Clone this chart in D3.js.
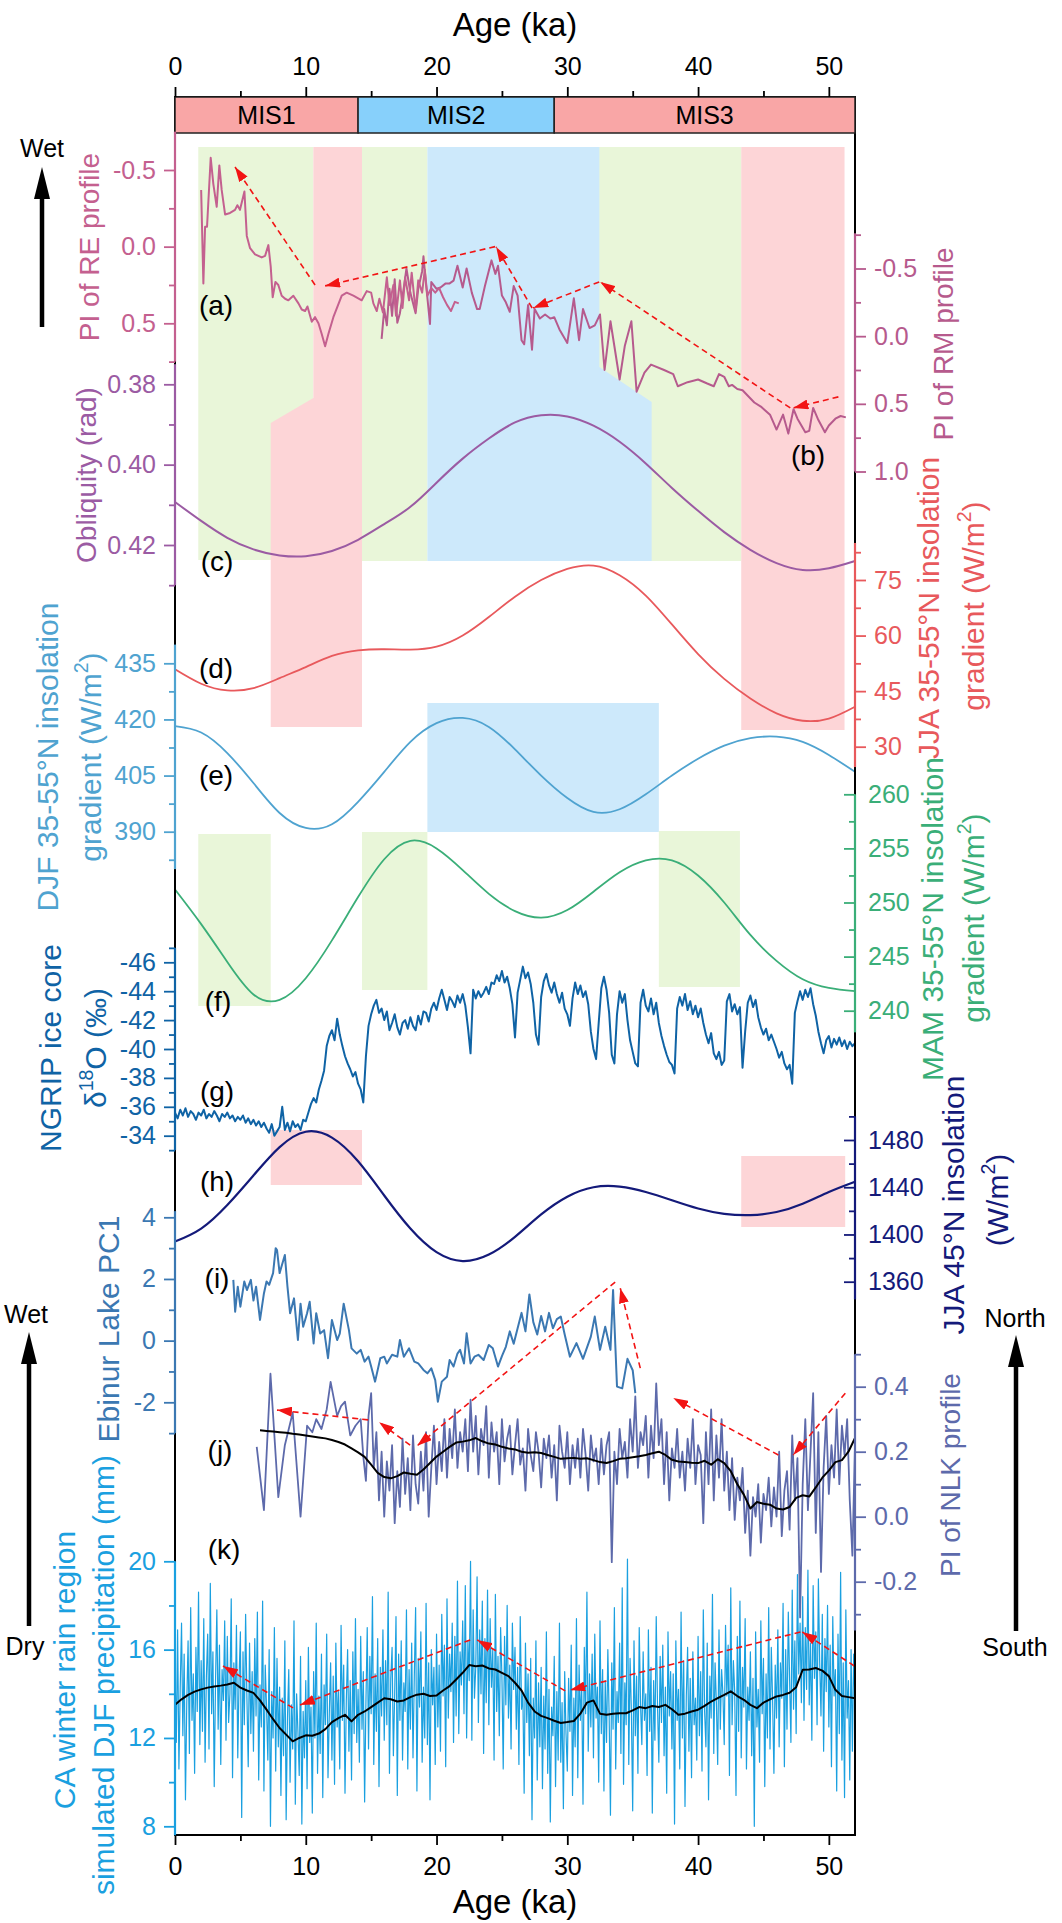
<!DOCTYPE html>
<html>
<head>
<meta charset="utf-8">
<script src="https://cdn.jsdelivr.net/npm/d3@7"></script>
<style>
  body { margin: 0; background: #fff; }
  text { font-family: "Liberation Sans", Arial, Helvetica, sans-serif; }
</style>
</head>
<body>
<svg id="chart" width="1062" height="1923"></svg>
<script>
// ------------------------------
// Data
// ------------------------------

// MIS stages (ka)
const misNames = ["MIS1", "MIS2", "MIS3"];
const misStart = [0, 14, 29];
const misEnd = [14, 29, 52];

// orbital series, every 2 ka
const orbitAge = [0, 2, 4, 6, 8, 10, 12, 14, 16, 18, 20, 22, 24, 26, 28, 30, 32, 34, 36, 38, 40, 42, 44, 46, 48, 50, 52];
const obliquity = [0.4093, 0.4140, 0.4182, 0.4211, 0.4226, 0.4228, 0.4215, 0.4187, 0.4148, 0.4105, 0.4045, 0.3985, 0.3935, 0.3895, 0.3877, 0.3880, 0.3903, 0.3943, 0.3997, 0.4058, 0.4115, 0.4168, 0.4212, 0.4245, 0.4262, 0.4258, 0.4240];
const jja3555 = [50.9, 47.0, 45.2, 45.8, 48.5, 51.5, 54.5, 56.0, 56.3, 56.2, 57.0, 60.0, 65.0, 70.5, 75.0, 78.0, 78.9, 76.3, 70.8, 63.0, 55.0, 48.3, 43.0, 39.0, 37.0, 37.6, 40.8];
const djf3555 = [418.2, 416.5, 411.0, 403.0, 395.0, 391.0, 392.0, 398.0, 406.0, 414.0, 419.0, 420.4, 418.0, 412.0, 405.0, 399.0, 395.3, 396.0, 400.0, 405.0, 409.5, 413.0, 415.0, 415.4, 414.0, 410.5, 406.0];
const mam3555 = [251.2, 248.0, 244.5, 241.5, 241.0, 243.0, 246.5, 250.5, 254.0, 255.7, 255.0, 253.0, 250.8, 249.2, 248.6, 249.3, 251.0, 252.8, 253.9, 253.9, 252.5, 250.0, 247.0, 244.6, 242.9, 242.1, 241.8];
const jja45 = [1394, 1405, 1425, 1450, 1474, 1487, 1482, 1462, 1433, 1405, 1385, 1377.5, 1383, 1398, 1417, 1432, 1440, 1440.5, 1436, 1429, 1422, 1417.5, 1416.4, 1419, 1426, 1436, 1444.7];

// PI of RE profile [ka, PI]
const reProfile = [[2.0,-0.37],[2.17,0.24],[2.3,-0.13],[2.45,-0.13],[2.73,-0.58],[2.93,-0.41],[3.19,-0.26],[3.39,-0.53],[3.57,-0.37],[3.83,-0.21],[4.21,-0.22],[4.59,-0.24],[4.77,-0.27],[4.97,-0.24],[5.31,-0.36],[5.49,-0.07],[5.74,0.01],[6.12,0.05],[6.63,0.07],[6.89,0.06],[7.14,-0.01],[7.32,0.13],[7.47,0.33],[7.68,0.23],[7.9,0.25],[8.16,0.32],[8.42,0.34],[8.67,0.35],[9.05,0.32],[9.44,0.37],[9.69,0.41],[9.95,0.42],[10.13,0.39],[10.46,0.49],[10.71,0.46],[10.97,0.5],[11.22,0.57],[11.48,0.65],[11.73,0.57],[12.11,0.46],[12.75,0.32],[13.13,0.3],[13.64,0.32],[14.28,0.35],[14.66,0.29],[15.0,0.3],[15.17,0.37],[15.43,0.42],[15.63,0.34],[15.9,0.43],[16.2,0.2],[16.4,0.38],[16.7,0.25],[16.9,0.45],[17.2,0.22],[17.4,0.4],[17.6,0.2],[17.9,0.35],[18.1,0.17],[18.4,0.42],[18.6,0.22],[18.9,0.3],[19.1,0.15],[19.3,0.32],[19.6,0.27],[19.9,0.3],[20.2,0.27],[20.5,0.33],[20.8,0.38],[21.1,0.42],[21.4,0.36],[21.7,0.37]];

// PI of RM profile [ka, PI]
const rmProfile = [[15.8,0.02],[16.0,-0.2],[16.2,-0.08],[16.4,-0.35],[16.6,-0.15],[16.8,-0.42],[17.0,-0.1],[17.2,-0.17],[17.5,-0.36],[17.7,-0.5],[18.0,-0.32],[18.4,-0.17],[18.6,-0.35],[18.9,-0.48],[19.0,-0.59],[19.2,-0.38],[19.5,-0.09],[19.6,-0.4],[20.0,-0.35],[20.3,-0.36],[20.7,-0.39],[21.0,-0.39],[21.3,-0.41],[21.6,-0.52],[22.0,-0.36],[22.3,-0.5],[22.7,-0.32],[23.1,-0.2],[23.3,-0.2],[23.7,-0.37],[24.2,-0.56],[24.5,-0.46],[24.7,-0.52],[25.0,-0.3],[25.3,-0.25],[25.6,-0.18],[25.9,-0.37],[26.2,-0.3],[26.5,0.03],[26.7,0.06],[27.0,-0.23],[27.3,0.1],[27.5,-0.2],[27.9,-0.13],[28.3,-0.16],[28.7,-0.13],[29.0,-0.14],[29.4,-0.05],[30.0,0.05],[30.5,-0.28],[30.9,0.03],[31.2,-0.2],[31.7,-0.06],[32.1,-0.08],[32.5,-0.16],[32.85,0.25],[33.3,-0.11],[34.0,0.32],[34.4,0.07],[34.9,-0.11],[35.3,0.41],[35.9,0.27],[36.4,0.21],[37.4,0.25],[38.1,0.28],[38.45,0.37],[39.2,0.34],[40.0,0.32],[40.7,0.35],[41.2,0.37],[41.6,0.28],[42.0,0.3],[42.35,0.37],[42.6,0.36],[43.0,0.39],[43.4,0.40],[44.3,0.49],[44.8,0.52],[45.5,0.58],[46.0,0.69],[46.5,0.58],[46.9,0.72],[47.3,0.54],[47.6,0.61],[48.2,0.71],[48.5,0.70],[48.8,0.53],[49.2,0.62],[49.7,0.71],[50.0,0.66],[50.5,0.61],[50.9,0.59],[51.3,0.6]];

// NGRIP d18O, from 0 ka every 0.2 ka
const ngripStep = 0.2;
const ngrip = [
  -35.6,-35.2,-35.8,-35.4,-35.9,-35.3,-35.7,-35.5,-35.1,-35.6,-35.4,-35.8,-35.2,-35.5,-35.3,-35.7,-35.4,-35.0,-35.5,-35.3,-35.6,-35.2,-35.4,-35.0,-35.3,
  -35.1,-35.4,-34.9,-35.2,-34.8,-35.1,-34.7,-35.0,-34.6,-34.9,-34.5,-34.2,-34.8,-34.0,-34.3,-34.6,-36.0,-34.4,-34.9,-34.3,-35.0,-34.6,-34.8,-34.4,-35.1,
  -35.0,-35.6,-36.2,-36.6,-36.3,-37.2,-37.8,-38.5,-40.2,-40.9,-41.3,-40.6,-42.1,-41.0,-40.2,-39.5,-39.0,-38.6,-38.1,-38.4,-37.6,-37.2,-36.3,-39.5,-41.6,
  -42.4,-43.0,-43.4,-42.5,-42.8,-42.0,-42.6,-41.3,-41.8,-42.4,-41.5,-41.0,-41.8,-42.0,-41.4,-42.2,-41.6,-41.3,-42.3,-41.7,-42.6,-42.5,-41.9,-42.8,-43.2,
  -42.7,-43.5,-44.1,-43.4,-42.7,-43.6,-43.3,-42.9,-43.7,-43.2,-43.8,-43.0,-41.5,-39.7,-44.1,-43.5,-44.0,-43.6,-43.9,-44.3,-43.8,-44.6,-44.5,-45.1,-44.7,
  -45.4,-44.6,-45.0,-44.2,-43.1,-40.8,-43.9,-44.8,-45.7,-44.9,-45.3,-44.5,-43.2,-41.0,-40.3,-43.6,-44.7,-45.2,-44.4,-43.9,-44.6,-43.8,-43.2,-43.9,-42.8,
  -42.4,-41.6,-43.5,-44.6,-43.8,-44.4,-43.6,-44.0,-43.1,-41.2,-40.0,-39.3,-41.8,-44.2,-45.0,-44.1,-42.5,-39.6,-39.0,-42.4,-44.0,-43.2,-43.8,-42.0,-40.6,
  -39.8,-39.0,-38.8,-43.2,-44.1,-43.0,-42.6,-43.5,-42.4,-43.2,-41.8,-40.9,-40.2,-39.6,-39.1,-38.9,-38.3,-42.8,-43.6,-43.0,-43.8,-42.7,-43.3,-42.4,-43.0,
  -42.2,-42.8,-41.8,-41.0,-40.4,-41.1,-39.7,-39.3,-39.8,-38.9,-39.2,-43.3,-43.8,-42.6,-43.1,-42.4,-42.9,-38.7,-41.2,-43.2,-43.7,-42.9,-43.4,-42.2,-41.5,
  -41.0,-41.4,-40.6,-41.0,-40.5,-40.0,-39.4,-39.8,-39.0,-38.6,-38.9,-37.6,-42.5,-43.3,-44.0,-43.4,-44.1,-43.6,-44.2,-43.1,-42.3,-41.2,-40.4,-39.7,-40.6,
  -40.9,-40.1,-40.7,-40.3,-40.8,-40.2,-40.6,-40.0,-40.5,-40.2,-40.4
];

// Ebinur Lake PC1 [ka, PC1]
const ebinur = [[4.46,1.97],[4.6,0.94],[4.8,1.75],[5.0,1.1],[5.3,1.92],[5.5,1.64],[5.8,1.97],[6.0,1.3],[6.2,1.75],[6.5,0.67],[6.8,1.53],[7.0,1.92],[7.2,1.81],[7.5,2.19],[7.7,3.0],[7.8,2.94],[8.0,2.19],[8.4,2.78],[8.6,1.75],[8.8,0.89],[9.1,1.37],[9.4,0.02],[9.6,1.2],[9.8,0.45],[10.1,0.89],[10.3,1.26],[10.6,-0.09],[10.8,0.89],[11.1,0.23],[11.4,0.34],[11.7,-0.57],[12.0,0.67],[12.4,0.02],[12.6,0.23],[12.9,1.2],[13.3,0.34],[13.5,-0.25],[13.9,-0.42],[14.2,-0.3],[14.5,-0.68],[14.8,-0.52],[15.0,-0.84],[15.3,-1.33],[15.7,-0.57],[16.0,-0.52],[16.2,-0.74],[16.6,-0.46],[17.0,-0.52],[17.2,0.02],[17.5,-0.52],[17.9,-0.25],[18.3,-0.68],[18.6,-0.74],[19.0,-0.95],[19.3,-1.06],[19.6,-0.9],[19.9,-1.28],[20.1,-1.98],[20.4,-1.33],[20.8,-1.17],[21.0,-0.63],[21.3,-0.84],[21.6,-0.42],[21.8,-0.3],[22.1,-0.74],[22.3,0.24],[22.6,-0.74],[22.9,-0.52],[23.2,-0.46],[23.6,-0.63],[24.0,-0.14],[24.3,-0.25],[24.7,-0.84],[25.0,-0.5],[25.3,-0.2],[25.6,0.3],[25.9,-0.1],[26.2,0.4],[26.5,0.9],[26.8,0.3],[27.1,1.5],[27.4,0.6],[27.7,0.2],[28.0,0.8],[28.3,0.3],[28.6,0.9],[28.9,0.4],[29.2,0.7],[29.5,0.78],[29.8,0.2],[30.2,-0.52],[30.7,-0.08],[31.2,-0.59],[31.8,0.13],[32.1,0.78],[32.5,-0.3],[32.9,0.45],[33.3,-0.3],[33.5,1.64],[33.8,-1.49],[34.2,-1.55],[34.6,-0.59],[35.0,-0.96],[35.2,-1.7]];

// PI of NLK profile: sparse early part [ka, PI], then every 0.2 ka from 14.6 ka
const nlkEarly = [[6.25,0.215],[6.8,0.02],[7.3,0.44],[7.9,0.06],[8.4,0.22],[9.0,0.32],[9.6,0.0],[10.1,0.28],[10.5,0.26],[10.8,0.3],[11.2,0.27],[11.6,0.33],[11.9,0.415],[12.4,0.31],[12.7,0.34],[13.0,0.354],[13.4,0.25],[13.8,0.28],[14.2,0.3],[14.4,0.185]];
const nlkStart = 14.6, nlkStep = 0.2;
const nlk = [
  0.11,0.31,0.38,0.15,0.26,0.05,0.2,0.0,0.17,0.08,
  0.22,-0.02,0.14,0.03,0.24,0.07,0.18,0.02,0.25,0.1,
  0.04,0.2,0.08,0.26,0.0,0.15,0.28,0.1,0.23,0.14,
  0.3,0.12,0.27,0.18,0.33,0.15,0.26,0.2,0.3,0.14,
  0.36,0.2,0.31,0.13,0.27,0.22,0.34,0.12,0.29,0.2,
  0.26,0.1,0.3,0.17,0.24,0.28,0.13,0.22,0.3,0.16,
  0.21,0.08,0.27,0.19,0.14,0.26,0.2,0.09,0.24,0.18,
  0.25,0.12,0.22,0.05,0.28,0.2,0.15,0.26,0.1,0.22,
  0.15,0.24,0.12,0.27,0.19,0.08,0.25,0.17,0.21,0.1,
  0.24,0.13,0.22,0.26,-0.14,0.2,0.1,0.27,0.18,0.23,
  0.12,0.3,0.2,0.37,0.15,0.26,0.22,0.31,0.12,0.28,
  0.18,0.41,0.22,0.3,0.1,0.26,0.05,0.21,0.15,0.27,
  0.12,0.2,0.08,0.24,0.15,0.3,0.1,0.22,0.19,-0.02,
  0.26,0.1,0.33,0.05,0.25,0.12,0.3,0.08,0.2,0.02,
  0.18,-0.01,0.12,0.05,0.15,-0.05,0.08,-0.12,0.06,0.0,
  0.1,-0.08,0.07,0.02,0.12,-0.03,0.09,0.0,0.2,-0.06,
  0.08,0.14,-0.04,0.25,0.05,0.18,-0.31,0.1,0.3,0.02,
  0.2,0.38,-0.05,0.26,-0.17,0.15,0.31,0.07,0.22,0.12,
  0.33,0.1,0.28,0.19,0.3,0.05,-0.12,0.22
];
// NLK smoothed, every 0.5 ka from 6.5 ka
const nlkSmoothStart = 6.5, smoothStep = 0.5;
const nlkSmooth = [0.266,0.264,0.262,0.26,0.258,0.255,0.253,0.25,0.247,0.244,0.241,0.236,0.23,0.222,0.21,0.198,0.184,0.16,0.135,0.122,0.118,0.125,0.136,0.132,0.129,0.145,0.165,0.185,0.2,0.215,0.228,0.231,0.235,0.242,0.232,0.225,0.222,0.215,0.21,0.207,0.2,0.197,0.198,0.196,0.19,0.184,0.178,0.18,0.181,0.178,0.18,0.174,0.168,0.165,0.171,0.178,0.18,0.183,0.186,0.19,0.195,0.2,0.19,0.175,0.17,0.168,0.166,0.165,0.172,0.16,0.177,0.165,0.14,0.1,0.068,0.025,0.045,0.04,0.037,0.025,0.022,0.03,0.058,0.066,0.062,0.09,0.12,0.142,0.168,0.174,0.2,0.242];

// CA winter rain region simulated DJF precipitation (mm), every 0.1 ka from 0 ka
const caStep = 0.1;
const caPrecip = [
  15.2,11.8,16.9,10.6,14.3,17.2,12.1,15.8,9.2,13.6,16.4,11.3,17.9,12.8,14.9,10.4,16.1,13.2,18.6,11.7,
  15.5,12.3,17.4,10.9,14.8,16.7,11.5,19.0,13.1,15.9,9.8,14.6,17.8,12.4,16.2,10.8,15.1,13.7,17.3,11.9,
  16.6,12.7,14.0,18.3,10.2,15.4,13.3,17.1,11.1,14.7,16.8,8.4,15.9,12.6,17.6,13.8,10.7,16.3,12.2,15.0,
  11.4,16.5,13.0,17.7,10.1,14.4,12.5,18.2,9.6,15.3,13.4,11.0,16.0,8.0,14.1,12.0,17.0,10.5,15.6,11.6,
  14.3,9.4,13.8,11.2,16.4,8.3,12.9,15.1,10.0,13.5,11.5,17.3,9.0,14.0,12.3,10.3,15.7,8.1,13.2,11.1,
  14.6,9.7,16.1,11.8,13.4,8.6,15.0,12.0,17.2,10.4,13.9,11.3,15.8,9.3,14.4,12.6,16.7,10.2,13.1,15.4,
  11.0,14.8,9.9,16.3,12.5,14.1,10.6,17.1,12.8,15.3,9.5,13.7,16.0,11.4,14.6,10.1,15.9,12.2,17.4,11.8,
  14.2,10.9,16.6,12.4,15.0,9.1,13.6,17.0,11.5,15.7,13.1,18.4,10.8,14.9,12.3,16.5,9.8,15.2,13.0,16.9,
  11.9,15.5,12.6,18.6,10.4,14.7,16.1,11.2,14.0,17.5,9.4,15.8,12.8,16.4,11.0,14.5,13.2,17.8,10.6,15.1,
  12.4,16.3,11.1,14.8,17.9,9.6,15.6,13.4,16.8,10.9,14.3,12.0,18.1,11.7,15.4,9.2,16.0,13.5,15.2,10.8,
  16.7,12.5,15.3,11.4,17.6,13.9,16.2,10.7,18.3,12.9,15.8,14.1,17.2,11.8,16.6,13.0,19.1,12.2,15.9,14.4,
  17.3,13.1,18.9,12.0,16.4,14.6,20.0,11.9,17.8,13.8,15.2,19.3,12.7,16.9,14.0,18.2,11.3,16.5,13.6,18.7,
  12.6,17.4,14.3,16.0,11.0,18.5,13.2,15.7,12.1,17.0,14.8,10.6,16.6,13.5,18.0,12.9,15.3,11.5,17.2,14.2,
  16.1,12.4,15.2,10.8,17.5,13.3,14.0,9.5,16.3,12.7,14.9,11.2,15.6,8.3,13.8,12.0,16.4,10.1,14.5,11.6,
  15.2,9.7,13.9,11.5,16.8,10.4,14.2,8.2,13.4,12.1,15.7,9.8,14.1,11.0,17.2,10.9,13.6,8.8,15.0,12.2,
  10.5,14.7,12.3,16.2,9.4,13.8,11.6,17.4,10.2,15.3,12.8,14.4,9.0,16.1,13.1,18.6,11.4,14.9,12.5,15.8,
  11.1,16.7,12.9,14.3,10.0,17.3,12.2,15.1,9.6,14.6,11.8,16.0,13.0,8.5,15.4,12.4,17.9,10.6,14.1,12.7,
  16.3,11.3,18.8,9.9,14.5,12.6,20.1,10.8,15.6,13.2,8.7,16.4,12.1,14.8,10.4,17.0,13.5,11.7,15.9,12.8,
  14.0,10.3,16.9,12.3,15.2,8.6,14.6,11.9,17.5,13.4,10.9,15.7,12.7,16.2,11.2,14.3,9.5,16.8,13.0,15.0,
  11.5,14.9,8.1,16.4,12.8,14.2,10.6,17.7,12.0,15.5,8.9,13.9,16.1,11.4,14.7,10.2,15.9,12.6,13.8,11.0,
  16.6,12.1,15.0,10.5,17.8,13.2,11.6,16.3,9.2,14.8,12.9,18.5,11.3,15.4,13.6,10.8,16.9,12.4,15.1,14.0,
  11.7,17.1,13.9,16.2,10.3,18.8,12.6,15.5,14.1,9.4,16.6,12.3,18.2,11.1,15.2,13.4,17.4,10.6,14.3,12.8,
  15.9,11.2,14.7,8.0,16.8,12.5,14.2,10.9,17.3,13.1,15.6,9.8,14.9,12.0,17.9,11.5,16.1,13.7,10.4,15.3,
  12.9,16.9,11.6,15.4,13.8,18.1,10.7,16.0,12.4,17.7,14.6,11.8,18.7,13.3,16.4,12.2,19.4,14.9,17.2,13.6,
  18.4,12.8,17.0,14.2,19.6,13.5,16.3,11.9,18.9,14.7,16.8,12.6,19.2,15.4,13.0,17.6,11.4,16.5,14.1,18.0,
  12.5,16.2,10.7,17.5,13.9,15.1,9.6,16.7,12.2,19.5,11.0,15.4,9.3,17.8,12.9,14.6,10.1,16.0,11.4,15.8,
  13.6
];
// CA smoothed, every 0.5 ka from 0 ka
const caSmooth = [13.5,13.75,13.95,14.1,14.2,14.28,14.33,14.37,14.42,14.5,14.28,14.15,14.04,13.7,13.28,12.85,12.45,12.15,11.85,12.0,12.12,12.1,12.2,12.4,12.72,12.9,13.05,12.75,13.05,13.2,13.4,13.6,13.8,13.75,13.65,13.7,13.85,13.96,14.0,13.9,13.92,14.15,14.35,14.65,14.95,15.3,15.25,15.28,15.15,15.1,14.95,14.8,14.5,14.15,13.6,13.2,13.0,12.9,12.78,12.68,12.72,12.77,13.1,13.6,13.7,13.1,13.05,13.1,13.12,13.12,13.25,13.4,13.35,13.45,13.4,13.5,13.3,13.05,13.1,13.2,13.28,13.45,13.65,13.8,13.95,14.11,13.9,13.73,13.5,13.35,13.6,13.75,13.88,13.95,14.05,14.3,15.09,15.1,15.17,15.05,14.8,14.18,13.9,13.85,13.8];

// trend arrows [fromKa, fromValue, toKa, toValue] on each panel's scale
const arrowsRE = [[10.71,0.25,4.59,-0.52],[24.48,0.0,11.48,0.256],[27.31,0.4,24.56,0.002],[32.44,0.23,27.39,0.4],[47.05,1.052,32.52,0.23],[50.73,0.98,47.28,1.052]];
const arrowsNLK = [[14.77,0.298,7.8,0.328],[17.98,0.22,15.61,0.291],[33.66,0.722,18.52,0.218],[35.58,0.457,34.05,0.703],[46.14,0.19,38.1,0.365],[51.26,0.38,47.28,0.19]];
const arrowsCA = [[9.03,13.36,3.67,15.26],[22.57,16.44,9.56,13.49],[29.84,14.13,23.11,16.44],[47.82,16.8,30.22,14.17],[51.95,15.26,47.97,16.8]];

// ------------------------------
// Setup
// ------------------------------

const svg = d3.select("#chart");
const FONT = '"Liberation Sans", Arial, Helvetica, sans-serif';
const yTop = 97, yBar = 133, yBottom = 1835;
const x = d3.scaleLinear().domain([0, 52]).range([175, 855]);
const lin = (d, r) => d3.scaleLinear().domain(d).range(r);

// one vertical scale per record, pinned to two of its tick marks
const yRE = lin([-0.5, 0.5], [170, 323.3]);
const yRM = lin([-0.5, 1.0], [268.5, 471.5]);
const yOBL = lin([0.38, 0.42], [384.3, 545]);
const yJJA = lin([75, 30], [580, 746.7]);
const yDJF = lin([435, 390], [663.3, 831.7]);
const yMAM = lin([260, 240], [794.3, 1010.7]);
const yNG = lin([-46, -34], [962.3, 1135.7]);
const yJ45 = lin([1480, 1360], [1140, 1281.7]);
const yEB = lin([4, -2], [1217.3, 1402.3]);
const yNLK = lin([0.4, 0.0], [1386.7, 1516.7]);
const yCA = lin([20, 8], [1561.3, 1826.3]);

const C = {
  re: "#c4608f", rm: "#b65a8d", obl: "#9b5ba3", jja: "#e8595c", djf: "#4fa3d0",
  mam: "#3aae78", ng: "#0f63a5", j45: "#141a7a", eb: "#3b78b2", nlk: "#5d6aab",
  ca: "#1aa0e0", arrow: "#f21414",
  green: "#e9f6d9", pink: "#fdd5d7", blue: "#cde9fb",
  misPink: "#f9a6a6", misBlue: "#87d0fb"
};

svg.append("rect").attr("width", 1062).attr("height", 1923).attr("fill", "#fff");

// ------------------------------
// Background shading (ka along x, pixel band along y)
// ------------------------------

const shade = svg.append("g");
const poly = (pts, fill) => shade.append("path")
  .attr("d", d3.line().x(d => x(d[0])).y(d => d[1])(pts) + "Z")
  .attr("fill", fill);
const box = (k0, k1, y0, y1, fill) => poly([[k0, y0], [k1, y0], [k1, y1], [k0, y1]], fill);

box(1.78, 10.58, 147, 560, C.green);
box(14.3, 19.3, 147, 561, C.green);
box(32.4, 43.3, 147, 561, C.green);
poly([[19.3, 147], [32.45, 147], [32.45, 367], [36.45, 402], [36.45, 561], [19.3, 561]], C.blue);
poly([[10.58, 147], [14.3, 147], [14.3, 727], [7.32, 727], [7.32, 423], [10.58, 398]], C.pink);
box(43.3, 51.2, 147, 730, C.pink);
box(19.3, 37.0, 703, 832, C.blue);
box(1.78, 7.32, 834, 1006, C.green);
box(14.3, 19.3, 832, 990, C.green);
box(37.0, 43.2, 831, 987, C.green);
box(7.32, 14.3, 1130, 1185, C.pink);
box(43.3, 51.25, 1156, 1227, C.pink);

// ------------------------------
// Series
// ------------------------------

const series = svg.append("g").attr("fill", "none").attr("stroke-linejoin", "round");
function drawLine(pts, yScale, color, width, curve) {
  series.append("path")
    .attr("d", d3.line().x(d => x(d[0])).y(d => yScale(d[1])).curve(curve || d3.curveLinear)(pts))
    .attr("stroke", color).attr("stroke-width", width);
}
const regular = (vals, start, step) => vals.map((v, i) => [start + i * step, v]);
const byOrbit = vals => vals.map((v, i) => [orbitAge[i], v]);

drawLine(regular(caPrecip, 0, caStep), yCA, C.ca, 1.2);
drawLine(regular(caSmooth, 0, smoothStep), yCA, "#000", 2);
drawLine(nlkEarly.concat(regular(nlk, nlkStart, nlkStep)), yNLK, C.nlk, 1.8);
drawLine(regular(nlkSmooth, nlkSmoothStart, smoothStep), yNLK, "#000", 2);
drawLine(ebinur, yEB, C.eb, 2);
drawLine(byOrbit(jja45), yJ45, C.j45, 2.2, d3.curveNatural);
drawLine(regular(ngrip, 0, ngripStep), yNG, C.ng, 2);
drawLine(byOrbit(mam3555), yMAM, C.mam, 1.8, d3.curveNatural);
drawLine(byOrbit(djf3555), yDJF, C.djf, 1.8, d3.curveNatural);
drawLine(byOrbit(jja3555), yJJA, C.jja, 1.8, d3.curveNatural);
drawLine(byOrbit(obliquity), yOBL, C.obl, 2, d3.curveNatural);
drawLine(rmProfile, yRM, C.rm, 2);
drawLine(reProfile, yRE, C.re, 2);

// ------------------------------
// Red dashed trend arrows
// ------------------------------

svg.append("defs").append("marker")
  .attr("id", "redHead").attr("viewBox", "0 0 15 10").attr("refX", 15).attr("refY", 5)
  .attr("markerWidth", 15).attr("markerHeight", 10).attr("markerUnits", "userSpaceOnUse")
  .attr("orient", "auto").attr("preserveAspectRatio", "none")
  .append("path").attr("d", "M0,0L15,5L0,10Z").attr("fill", C.arrow);

function trendArrows(list, yScale) {
  svg.append("g").selectAll("line").data(list).join("line")
    .attr("x1", d => x(d[0])).attr("y1", d => yScale(d[1]))
    .attr("x2", d => x(d[2])).attr("y2", d => yScale(d[3]))
    .attr("stroke", C.arrow).attr("stroke-width", 1.6).attr("stroke-dasharray", "6,4")
    .attr("marker-end", "url(#redHead)");
}
trendArrows(arrowsRE, yRE);
trendArrows(arrowsNLK, yNLK);
trendArrows(arrowsCA, yCA);

// ------------------------------
// Frame, MIS bar and age axes
// ------------------------------

svg.append("rect").attr("x", x(0)).attr("y", yTop).attr("width", x(52) - x(0)).attr("height", yBottom - yTop)
  .attr("fill", "none").attr("stroke", "#000").attr("stroke-width", 2);

svg.append("g").selectAll("rect").data(misNames).join("rect")
  .attr("x", (d, i) => x(misStart[i])).attr("y", yTop)
  .attr("width", (d, i) => x(misEnd[i]) - x(misStart[i])).attr("height", yBar - yTop)
  .attr("fill", (d, i) => (i === 1 ? C.misBlue : C.misPink)).attr("stroke", "#222").attr("stroke-width", 1.5);
svg.append("g").selectAll("text").data(misNames).join("text")
  .attr("x", (d, i) => x((misStart[i] + misEnd[i]) / 2)).attr("y", 124)
  .attr("text-anchor", "middle").attr("font-size", 25).text(d => d);

const majorAge = [0, 10, 20, 30, 40, 50];
const minorAge = [5, 15, 25, 35, 45];
function styleAxis(g, color, size) {
  g.select(".domain").remove();
  g.attr("font-family", FONT).attr("font-size", size).attr("color", color);
  g.selectAll(".tick line").attr("stroke-width", 1.8);
}
svg.append("g").attr("transform", `translate(0,${yTop})`)
  .call(d3.axisTop(x).tickValues(majorAge).tickSize(10).tickPadding(12).tickFormat(d3.format("d")))
  .call(g => styleAxis(g, "#000", 25));
svg.append("g").attr("transform", `translate(0,${yTop})`)
  .call(d3.axisTop(x).tickValues(minorAge).tickSize(6).tickFormat(""))
  .call(g => styleAxis(g, "#000", 25));
svg.append("g").attr("transform", `translate(0,${yBottom})`)
  .call(d3.axisBottom(x).tickValues(majorAge).tickSize(10).tickPadding(12).tickFormat(d3.format("d")))
  .call(g => styleAxis(g, "#000", 25));
svg.append("g").attr("transform", `translate(0,${yBottom})`)
  .call(d3.axisBottom(x).tickValues(minorAge).tickSize(6).tickFormat(""))
  .call(g => styleAxis(g, "#000", 25));

svg.append("text").attr("x", 515).attr("y", 36).attr("text-anchor", "middle").attr("font-size", 33).text("Age (ka)");
svg.append("text").attr("x", 515).attr("y", 1913).attr("text-anchor", "middle").attr("font-size", 33).text("Age (ka)");

// ------------------------------
// Record axes (left and right)
// ------------------------------

function recordAxis(cfg) {
  const { scale, side, color, majors, minors, fmt, span, inward } = cfg;
  const make = side === "left" ? d3.axisLeft : d3.axisRight;
  const g = svg.append("g").attr("transform", `translate(${side === "left" ? x(0) : x(52)},0)`);
  g.append("line").attr("y1", scale(span[0])).attr("y2", scale(span[1]))
    .attr("stroke", color).attr("stroke-width", 2.2);
  g.append("g").call(make(scale).tickValues(minors).tickSize(inward ? -6 : 6).tickFormat(""))
    .call(s => styleAxis(s, color, 25));
  g.append("g").call(make(scale).tickValues(majors).tickSize(inward ? -11 : 11)
      .tickPadding(inward ? 13 : 8).tickFormat(fmt))
    .call(s => styleAxis(s, color, 25));
}
const f1 = d => d.toFixed(1);
const f2 = d => d.toFixed(2);
const f0 = d => String(d);

recordAxis({ scale: yRE, side: "left", color: C.re, majors: [-0.5, 0, 0.5], minors: [-0.25, 0.25, 0.75], fmt: f1, span: [-0.75, 0.75] });
recordAxis({ scale: yOBL, side: "left", color: C.obl, majors: [0.38, 0.40, 0.42], minors: [0.39, 0.41, 0.43], fmt: f2, span: [0.375, 0.43] });
recordAxis({ scale: yDJF, side: "left", color: C.djf, majors: [435, 420, 405, 390], minors: [427.5, 412.5, 397.5, 382.5], fmt: f0, span: [440, 380] });
recordAxis({ scale: yNG, side: "left", color: C.ng, majors: [-46, -44, -42, -40, -38, -36, -34], minors: [-47, -45, -43, -41, -39, -37, -35, -33], fmt: f0, span: [-47, -33] });
recordAxis({ scale: yEB, side: "left", color: C.eb, majors: [4, 2, 0, -2], minors: [3, 1, -1, -3], fmt: f0, span: [4.2, -3] });
recordAxis({ scale: yCA, side: "left", color: C.ca, majors: [20, 16, 12, 8], minors: [18, 14, 10], fmt: f0, span: [20, 7.6] });
recordAxis({ scale: yRM, side: "right", color: C.rm, majors: [-0.5, 0, 0.5, 1.0], minors: [-0.75, -0.25, 0.25, 0.75], fmt: f1, span: [-0.76, 1.0] });
recordAxis({ scale: yJJA, side: "right", color: C.jja, majors: [75, 60, 45, 30], minors: [82.5, 67.5, 52.5, 37.5], fmt: f0, span: [85, 24.5] });
recordAxis({ scale: yMAM, side: "right", color: C.mam, majors: [260, 255, 250, 245, 240], minors: [257.5, 252.5, 247.5, 242.5], fmt: f0, span: [260, 238], inward: true });
recordAxis({ scale: yJ45, side: "right", color: C.j45, majors: [1480, 1440, 1400, 1360], minors: [1500, 1460, 1420, 1380], fmt: f0, span: [1500, 1345], inward: true });
recordAxis({ scale: yNLK, side: "right", color: C.nlk, majors: [0.4, 0.2, 0, -0.2], minors: [0.5, 0.3, 0.1, -0.1, -0.3], fmt: f1, span: [0.5, -0.35] });

// ------------------------------
// Rotated axis titles
// ------------------------------

// parts: plain strings, or ["2"] for a superscript
function vTitle(parts, cx, cy, color, size) {
  const t = svg.append("text")
    .attr("transform", `translate(${cx + 0.35 * size},${cy}) rotate(-90)`)
    .attr("text-anchor", "middle").attr("font-size", size).attr("fill", color);
  let raised = false;
  parts.forEach(p => {
    const sup = Array.isArray(p);
    const ts = t.append("tspan").text(sup ? p[0] : p);
    if (sup) {
      ts.attr("font-size", size * 0.65).attr("dy", -0.42 * size);
      raised = true;
    } else if (raised) {
      ts.attr("dy", 0.42 * size);
      raised = false;
    }
  });
}
const wm2 = ["gradient (W/m", ["2"], ")"];
vTitle(["PI of RE profile"], 89, 247, C.re, 28);
vTitle(["Obliquity (rad)"], 86, 475, C.obl, 28);
vTitle(["DJF 35-55°N insolation"], 47, 757, C.djf, 30);
vTitle(wm2, 90, 757, C.djf, 30);
vTitle(["NGRIP ice core"], 50, 1048, C.ng, 30);
vTitle(["δ", ["18"], "O (‰)"], 95, 1048, C.ng, 30);
vTitle(["Ebinur Lake PC1"], 108, 1329, C.eb, 30);
vTitle(["CA winter rain region"], 64, 1670, C.ca, 30);
vTitle(["simulated DJF precipitation (mm)"], 103, 1675, C.ca, 30);
vTitle(["PI of RM profile"], 943, 344, C.rm, 28);
vTitle(["JJA 35-55°N insolation"], 928, 608, C.jja, 30);
vTitle(wm2, 973, 606, C.jja, 30);
vTitle(["MAM 35-55°N insolation"], 932, 919, C.mam, 30);
vTitle(wm2, 973, 918, C.mam, 30);
vTitle(["JJA 45°N insolation"], 953, 1205, C.j45, 30);
vTitle(["(W/m", ["2"], ")"], 997, 1200, C.j45, 30);
vTitle(["PI of NLK profile"], 950, 1475, C.nlk, 28);

// ------------------------------
// Panel letters and direction arrows
// ------------------------------

const panelLetters = ["(a)", "(b)", "(c)", "(d)", "(e)", "(f)", "(g)", "(h)", "(i)", "(j)", "(k)"];
const letterX = [216, 808, 217, 216, 216, 218, 217, 217, 217, 220, 224];
const letterY = [307, 457, 563, 670, 777, 1003, 1093, 1183, 1280, 1452, 1551];
svg.append("g").selectAll("text").data(panelLetters).join("text")
  .attr("x", (d, i) => letterX[i]).attr("y", (d, i) => letterY[i] + 8)
  .attr("text-anchor", "middle").attr("font-size", 28).text(d => d);

function bigArrow(cx, yTip, yEnd) {
  svg.append("line").attr("x1", cx).attr("x2", cx).attr("y1", yTip + 20).attr("y2", yEnd)
    .attr("stroke", "#000").attr("stroke-width", 4.5);
  svg.append("path").attr("d", `M${cx},${yTip}L${cx - 8},${yTip + 32}L${cx + 8},${yTip + 32}Z`).attr("fill", "#000");
}
function word(s, cx, yBase) {
  svg.append("text").attr("x", cx).attr("y", yBase).attr("text-anchor", "middle").attr("font-size", 25).text(s);
}
word("Wet", 42, 157);
bigArrow(42, 167, 327);
word("Wet", 26, 1323);
bigArrow(29, 1332, 1626);
word("Dry", 25, 1655);
word("North", 1015, 1327);
bigArrow(1016, 1335, 1631);
word("South", 1015, 1656);
</script>
</body>
</html>
